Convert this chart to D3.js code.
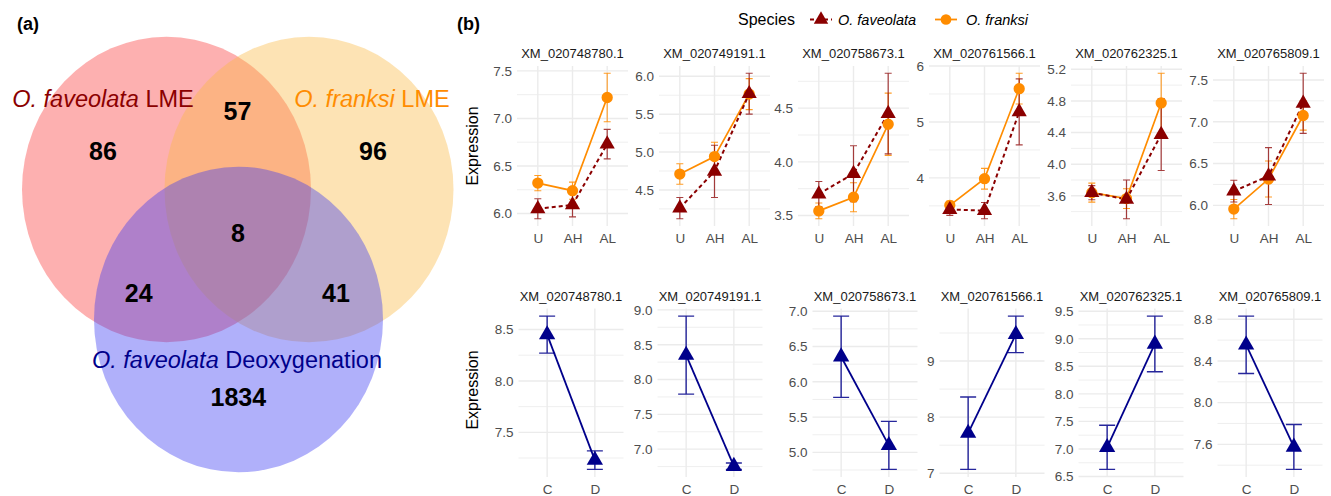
<!DOCTYPE html>
<html><head><meta charset="utf-8">
<script src="https://cdn.jsdelivr.net/npm/d3@7"></script>
<style>body{margin:0;background:#fff;} svg{display:block;}</style>
</head><body><svg id="chart" width="1331" height="496"></svg>
<script>
// ---------------- DATA ----------------
const vennSetNames = ["O. faveolata LME", "O. franksi LME", "O. faveolata Deoxygenation"];
const vennRegions = ["fav only", "fra only", "deox only", "fav∩fra", "fav∩deox", "fra∩deox", "all"];
const vennCounts = [86, 96, 1834, 57, 24, 41, 8];

const genes = ["XM_020748780.1", "XM_020749191.1", "XM_020758673.1", "XM_020761566.1", "XM_020762325.1", "XM_020765809.1"];
const lmeConditions = ["U", "AH", "AL"];
const deoxConditions = ["C", "D"];
const speciesNames = ["O. faveolata", "O. franksi"];

const favMean = [[6.05, 6.09, 6.73], [4.26, 4.745, 5.77], [3.70, 3.89, 4.45], [3.435, 3.415, 5.18], [3.64, 3.555, 4.375], [6.17, 6.35, 7.22]];
const favSE   = [[0.105, 0.125, 0.155], [0.14, 0.345, 0.27], [0.117, 0.26, 0.375], [0.105, 0.145, 0.59], [0.09, 0.245, 0.455], [0.13, 0.34, 0.36]];
const fraMean = [[6.32, 6.24, 7.22], [4.71, 4.94, 5.765], [3.543, 3.67, 4.35], [3.51, 3.985, 5.595], [3.64, 3.565, 4.775], [5.955, 6.315, 7.075]];
const fraSE   = [[0.08, 0.09, 0.255], [0.135, 0.19, 0.205], [0.073, 0.135, 0.29], [0.075, 0.185, 0.275], [0.12, 0.125, 0.375], [0.115, 0.215, 0.175]];
const deoxMean = [[8.45, 7.23], [8.35, 6.755], [6.355, 5.10], [7.715, 9.475], [7.03, 8.905], [8.555, 7.575]];
const deoxSE   = [[0.18, 0.09], [0.56, 0.045], [0.575, 0.34], [0.645, 0.325], [0.40, 0.505], [0.275, 0.215]];

const lmeTicks = [[6.0, 6.5, 7.0, 7.5], [4.5, 5.0, 5.5, 6.0], [3.5, 4.0, 4.5], [4, 5, 6], [3.6, 4.0, 4.4, 4.8, 5.2], [6.0, 6.5, 7.0, 7.5]];
const deoxTicks = [[7.5, 8.0, 8.5], [7.0, 7.5, 8.0, 8.5, 9.0], [5.0, 5.5, 6.0, 6.5, 7.0], [7, 8, 9], [6.5, 7.0, 7.5, 8.0, 8.5, 9.0, 9.5], [7.6, 8.0, 8.4, 8.8]];

// ---------------- LAYOUT ----------------
const FONT = '"Liberation Sans", Arial, Helvetica, sans-serif';
const svg = d3.select("#chart").attr("font-family", FONT);

// ---- Panel (a): Venn ----
const vennShapes = [
  {cx: 166.5, cy: 189.5, fill: "rgb(250,58,58)", text: "#8B0000", lx: 103, ly: 107},
  {cx: 309, cy: 189.5, fill: "rgb(250,185,68)", text: "#FF8C00", lx: 372, ly: 107},
  {cx: 238.5, cy: 319.5, fill: "rgb(58,58,243)", text: "#00008B", lx: 237, ly: 368}
];
const vennRegionPos = [[103, 160], [373, 160], [238.3, 406], [237.5, 120], [138.7, 301.7], [336, 301.7], [238, 241.7]];

const gv = svg.append("g");
gv.selectAll("ellipse").data(vennShapes).join("ellipse")
  .attr("cx", d => d.cx).attr("cy", d => d.cy)
  .attr("rx", 144.5).attr("ry", 152.8)
  .attr("fill", d => d.fill).attr("fill-opacity", 0.4);

vennShapes.forEach((d, i) => {
  const name = vennSetNames[i];
  const italicPart = name.match(/^O\. \w+/)[0];
  const rest = name.slice(italicPart.length);
  const t = gv.append("text").attr("x", d.lx).attr("y", d.ly)
    .attr("text-anchor", "middle").attr("font-size", 23.5).attr("fill", d.text);
  t.append("tspan").attr("font-style", "italic").text(italicPart);
  t.append("tspan").text(rest);
});

gv.selectAll("text.count").data(vennCounts).join("text").attr("class", "count")
  .attr("x", (d, i) => vennRegionPos[i][0]).attr("y", (d, i) => vennRegionPos[i][1])
  .attr("text-anchor", "middle").attr("font-size", 25).attr("font-weight", "bold")
  .attr("fill", "#000").text(d => d);

svg.append("text").attr("x", 17).attr("y", 30).attr("font-size", 18).attr("font-weight", "bold").text("(a)");
svg.append("text").attr("x", 457).attr("y", 30).attr("font-size", 18).attr("font-weight", "bold").text("(b)");

// ---- Panel (b) ----
const COL_FAV = "#8B0000", COL_FRA = "#FF8C00", COL_DEOX = "#00008B";
const GRID = "#EBEBEB";
const triangle = size => d3.symbol().type(d3.symbolTriangle).size(size)();

function drawPanel(left, top, w, h, cats, series, ticks, title) {
  const g = svg.append("g");
  let lo = Infinity, hi = -Infinity;
  series.forEach(s => s.mean.forEach((m, i) => { lo = Math.min(lo, m - s.se[i]); hi = Math.max(hi, m + s.se[i]); }));
  const pad = (hi - lo) * 0.05;
  const y = d3.scaleLinear().domain([lo - pad, hi + pad]).range([top + h, top]);
  const x = d3.scalePoint().domain(cats).range([left, left + w]).padding(0.6);

  // minor grid
  const step = ticks[1] - ticks[0];
  const minors = [ticks[0] - step / 2, ...ticks.slice(1).map((t, i) => (t + ticks[i]) / 2), ticks[ticks.length - 1] + step / 2]
    .filter(v => v >= y.domain()[0] && v <= y.domain()[1]);
  g.selectAll("line.minor").data(minors).join("line")
    .attr("x1", left).attr("x2", left + w).attr("y1", d => y(d)).attr("y2", d => y(d))
    .attr("stroke", GRID).attr("stroke-width", 0.8);
  g.selectAll("line.major").data(ticks).join("line")
    .attr("x1", left).attr("x2", left + w).attr("y1", d => y(d)).attr("y2", d => y(d))
    .attr("stroke", GRID).attr("stroke-width", 1.4);
  g.selectAll("line.vmajor").data(cats).join("line")
    .attr("x1", d => x(d)).attr("x2", d => x(d)).attr("y1", top).attr("y2", top + h)
    .attr("stroke", GRID).attr("stroke-width", 1.4);

  // axes
  const allInt = ticks.every(t => Number.isInteger(t));
  const ya = g.append("g").attr("transform", `translate(${left},0)`)
    .call(d3.axisLeft(y).tickValues(ticks).tickSize(0).tickPadding(5).tickFormat(d3.format(allInt ? "d" : ".1f")));
  const xa = g.append("g").attr("transform", `translate(0,${top + h})`)
    .call(d3.axisBottom(x).tickSize(0).tickPadding(7));
  [ya, xa].forEach(a => {
    a.select(".domain").remove();
    a.selectAll("text").attr("font-family", FONT).attr("font-size", 13.5).attr("fill", "#4D4D4D");
  });

  // strip title
  g.append("text").attr("x", left + w / 2).attr("y", top - 8).attr("text-anchor", "middle")
    .attr("font-size", 13).attr("fill", "#1A1A1A").text(title);

  const line = d3.line().x((d, i) => x(cats[i])).y(d => y(d));
  series.forEach(s => {
    g.append("path").attr("d", line(s.mean)).attr("fill", "none").attr("stroke", s.color)
      .attr("stroke-width", s.lw).attr("stroke-dasharray", s.dash || null);
  });
  series.forEach(s => {
    const eb = g.append("g").attr("stroke", s.color).attr("stroke-width", s.ebw).attr("stroke-opacity", s.ebo).attr("fill", "none");
    s.mean.forEach((m, i) => {
      const cx = x(cats[i]), y1 = y(m - s.se[i]), y2 = y(m + s.se[i]);
      eb.append("path").attr("d", `M${cx},${y1}V${y2}M${cx - s.cap},${y1}H${cx + s.cap}M${cx - s.cap},${y2}H${cx + s.cap}`);
    });
  });
  series.forEach(s => {
    g.selectAll(null).data(s.mean).join("path")
      .attr("transform", (d, i) => `translate(${x(cats[i])},${y(d)})`)
      .attr("d", s.shape === "circle" ? d3.symbol().type(d3.symbolCircle).size(s.size)() : triangle(s.size))
      .attr("fill", s.color);
  });
}

const topLeft = [517, 659, 798, 929, 1071, 1213], topW = 111, topY0 = 66, topH = 160;
const botLeft = [518.5, 657.5, 812.5, 939.5, 1078.5, 1217.5], botW = 105, botY0 = 308.5, botH = 168.5;

genes.forEach((gene, k) => {
  drawPanel(topLeft[k], topY0, topW, topH, lmeConditions, [
    {mean: fraMean[k], se: fraSE[k], color: COL_FRA, lw: 1.7, ebw: 1.1, ebo: 0.85, cap: 3.5, shape: "circle", size: 100},
    {mean: favMean[k], se: favSE[k], color: COL_FAV, lw: 2, dash: "4,3", ebw: 1.2, ebo: 0.75, cap: 3.5, shape: "triangle", size: 100}
  ], lmeTicks[k], gene);
  drawPanel(botLeft[k], botY0, botW, botH, deoxConditions, [
    {mean: deoxMean[k], se: deoxSE[k], color: COL_DEOX, lw: 1.8, ebw: 1.4, ebo: 0.85, cap: 8, shape: "triangle", size: 115}
  ], deoxTicks[k], gene);
});

// axis titles
[146, 390].forEach(cy => {
  svg.append("text").attr("transform", `translate(478,${cy}) rotate(-90)`).attr("text-anchor", "middle")
    .attr("font-size", 16).attr("fill", "#000").text("Expression");
});

// legend
const lg = svg.append("g");
lg.append("text").attr("x", 738).attr("y", 25).attr("font-size", 16).attr("fill", "#000").text("Species");
const legendItems = [
  {name: speciesNames[0], color: COL_FAV, dash: "4,3", shape: "triangle", kx: 821, tx: 838},
  {name: speciesNames[1], color: COL_FRA, dash: null, shape: "circle", kx: 946, tx: 966}
];
legendItems.forEach(d => {
  lg.append("line").attr("x1", d.kx - 11).attr("x2", d.kx + 11).attr("y1", 19.5).attr("y2", 19.5)
    .attr("stroke", d.color).attr("stroke-width", 1.8).attr("stroke-dasharray", d.dash);
  lg.append("path").attr("transform", `translate(${d.kx},19.5)`)
    .attr("d", d.shape === "circle" ? d3.symbol().type(d3.symbolCircle).size(90)() : triangle(90))
    .attr("fill", d.color);
  lg.append("text").attr("x", d.tx).attr("y", 25).attr("font-size", 14.5).attr("font-style", "italic").text(d.name);
});
</script></body></html>
